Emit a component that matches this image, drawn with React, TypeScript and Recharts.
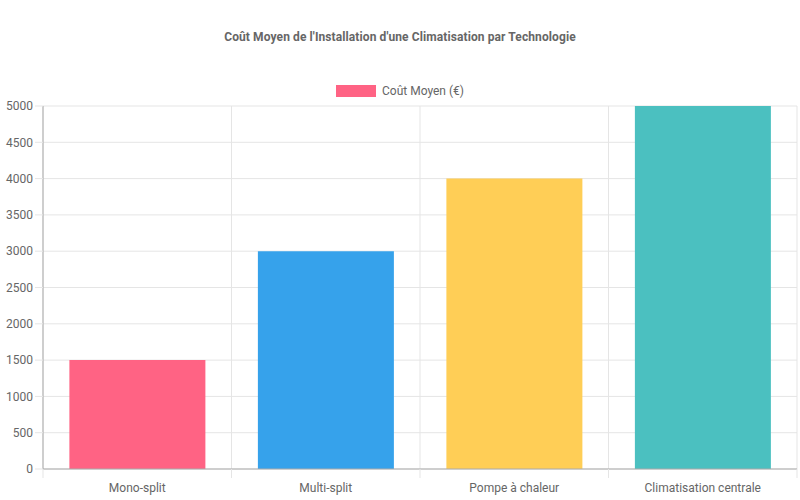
import React from "react";
import { BarChart, Bar, XAxis, YAxis, CartesianGrid, Cell } from "recharts";

const technologies = ["Mono-split", "Multi-split", "Pompe à chaleur", "Climatisation centrale"];
const costs = [1500, 3000, 4000, 5000];
const barColors = ["#FF6384", "#36A2EB", "#FFCE56", "#4BC0C0"];
const yTicks = [0, 500, 1000, 1500, 2000, 2500, 3000, 3500, 4000, 4500, 5000];

const data = technologies.map((name, i) => ({ name, cost: costs[i] }));

const FONT = "Roboto, 'Liberation Sans', Arial, sans-serif";
const W = 800;
const H = 500;
const margin = { top: 106, right: 3, left: 0, bottom: 0 };
const Y_WIDTH = 43;
const halfBand = (W - Y_WIDTH - margin.right) / technologies.length / 2;

const CategoryTick = (props: any) => {
  const { x, y, payload } = props;
  const axisY = y - 9;
  return (
    <g>
      <line x1={x - halfBand} x2={x - halfBand} y1={axisY} y2={axisY + 9} stroke="#e5e5e5" />
      {props.index === technologies.length - 1 && (
        <line x1={x + halfBand} x2={x + halfBand} y1={axisY} y2={axisY + 9} stroke="#e5e5e5" />
      )}
      <text x={x} y={y + 14} textAnchor="middle" fill="#666" fontSize={12} fontFamily={FONT}>
        {payload.value}
      </text>
    </g>
  );
};

export default function App() {
  return (
    <div style={{ position: "absolute", left: 0, top: 0, width: W, height: H, background: "#fff", fontFamily: FONT }}>
      <div
        style={{
          position: "absolute",
          top: 30,
          width: W,
          textAlign: "center",
          fontSize: 12,
          fontWeight: "bold",
          color: "#666",
          letterSpacing: 0.1,
        }}
      >
        Coût Moyen de l'Installation d'une Climatisation par Technologie
      </div>
      <div
        style={{
          position: "absolute",
          top: 84,
          width: W,
          display: "flex",
          justifyContent: "center",
          alignItems: "center",
          fontSize: 12,
          color: "#666",
        }}
      >
        <span style={{ display: "inline-block", width: 40, height: 12, background: barColors[0], marginRight: 6 }} />
        <span>Coût Moyen (€)</span>
      </div>
      <BarChart width={W} height={H} data={data} margin={margin} barCategoryGap="14%">
        <CartesianGrid
          stroke="#e5e5e5"
          verticalCoordinatesGenerator={({ offset }: any) =>
            technologies.map((_, i) => offset.left + (i * offset.width) / technologies.length).concat(offset.left + offset.width)
          }
        />
        <XAxis
          dataKey="name"
          height={31}
          tickLine={false}
          tickSize={9}
          tickMargin={0}
          axisLine={{ stroke: "#aaa" }}
          tick={<CategoryTick />}
          interval={0}
        />
        <YAxis
          width={Y_WIDTH}
          domain={[0, 5000]}
          ticks={yTicks}
          interval={0}
          tickSize={8}
          tickMargin={2}
          tickLine={{ stroke: "#e5e5e5" }}
          axisLine={{ stroke: "#aaa" }}
          tick={{ fill: "#666", fontSize: 12, fontFamily: FONT }}
        />
        <Bar dataKey="cost" isAnimationActive={false}>
          {data.map((d, i) => (
            <Cell key={d.name} fill={barColors[i]} />
          ))}
        </Bar>
      </BarChart>
    </div>
  );
}
